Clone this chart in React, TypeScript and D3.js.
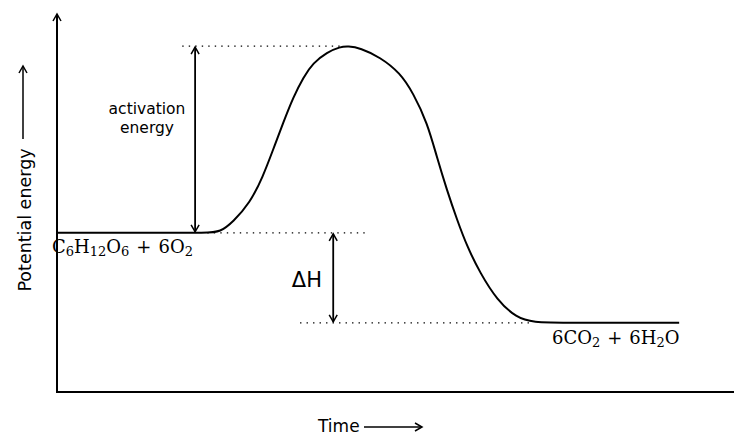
import React from "react";
import * as d3 from "d3";

// Reaction coordinate (time units) and potential energy (arbitrary units)
const time = [0, 1.5, 2.22, 2.41, 2.6, 2.85, 3.04, 3.19, 3.34, 3.49, 3.64, 3.78, 3.99, 4.18, 4.3, 4.48, 4.77, 5.07, 5.26, 5.47, 5.61, 5.76, 5.91, 6.06, 6.25, 6.5, 6.79, 7.03, 7.5, 9.19];
const energy = [4.21, 4.21, 4.21, 4.23, 4.5, 5.0, 5.69, 6.4, 7.12, 7.8, 8.33, 8.7, 8.99, 9.13, 9.15, 9.1, 8.86, 8.44, 7.91, 7.12, 6.22, 5.34, 4.55, 3.84, 3.15, 2.43, 1.96, 1.84, 1.83, 1.83];

const reactantLevel = 4.21;
const productLevel = 1.83;
const peakLevel = 9.15;

// dotted guide lines: [tStart, tEnd, level]
const guideStart = [1.85, 2.22, 3.59];
const guideEnd = [4.18, 4.62, 7.03];
const guideLevel = [peakLevel, reactantLevel, productLevel];

const activationT = 2.04;
const deltaHT = 4.08;

const W = 734;
const H = 436;

export default function App() {
  const x = d3.scaleLinear().domain([0, 10]).range([57, 734]);
  const y = d3.scaleLinear().domain([0, 10]).range([392, 14]);

  const pts: [number, number][] = time.map((t, i) => [t, energy[i]]);
  const line = d3
    .line<[number, number]>()
    .x((d) => x(d[0]))
    .y((d) => y(d[1]))
    .curve(d3.curveBasis);

  const sans = "'DejaVu Sans', sans-serif";
  const serif = "'DejaVu Serif', serif";

  const ax = x(activationT);
  const dx = x(deltaHT);

  return (
    <svg
      width={W}
      height={H}
      style={{ position: "absolute", left: 0, top: 0, background: "#fff" }}
    >
      <defs>
        <marker
          id="head"
          viewBox="-10 -6 12 12"
          markerWidth={12}
          markerHeight={12}
          refX={0}
          refY={0}
          orient="auto-start-reverse"
          markerUnits="userSpaceOnUse"
        >
          <path d="M-7,-4 L0,0 L-7,4" fill="none" stroke="#000" strokeWidth={1.5} />
        </marker>
      </defs>

      {/* axes */}
      <line x1={x(0)} y1={y(0)} x2={x(0)} y2={y(10)} stroke="#000" strokeWidth={2} markerEnd="url(#head)" />
      <line x1={x(0) - 1} y1={y(0)} x2={W} y2={y(0)} stroke="#000" strokeWidth={2} />

      {/* dotted guides */}
      {guideLevel.map((lv, i) => (
        <line
          key={i}
          x1={x(guideStart[i])}
          x2={x(guideEnd[i])}
          y1={y(lv)}
          y2={y(lv)}
          stroke="#000"
          strokeWidth={1.4}
          strokeDasharray="1.4 5.1"
        />
      ))}

      {/* energy curve */}
      <path d={line(pts) || ""} fill="none" stroke="#000" strokeWidth={2} />

      {/* activation energy arrow */}
      <line x1={ax} x2={ax} y1={y(peakLevel) + 1} y2={y(reactantLevel) - 1} stroke="#000" strokeWidth={1.8} markerStart="url(#head)" markerEnd="url(#head)" />
      {/* delta H arrow */}
      <line x1={dx} x2={dx} y1={y(reactantLevel) + 1} y2={y(productLevel) - 1} stroke="#000" strokeWidth={1.8} markerStart="url(#head)" markerEnd="url(#head)" />

      {/* labels */}
      <text x={147} y={114} textAnchor="middle" fontFamily={sans} fontSize={15.5}>activation</text>
      <text x={147} y={133} textAnchor="middle" fontFamily={sans} fontSize={15.5}>energy</text>

      <text x={322} y={287} textAnchor="end" fontFamily={sans} fontSize={21}>ΔH</text>

      <text x={52} y={253} fontFamily={serif} fontSize={18}>
        C<tspan fontSize={13} dy={3}>6</tspan>
        <tspan dy={-3}>H</tspan>
        <tspan fontSize={13} dy={3}>12</tspan>
        <tspan dy={-3}>O</tspan>
        <tspan fontSize={13} dy={3}>6</tspan>
        <tspan dy={-3} dx={7}>+</tspan>
        <tspan dx={7}>6O</tspan>
        <tspan fontSize={13} dy={3}>2</tspan>
      </text>

      <text x={552} y={344} fontFamily={serif} fontSize={18}>
        6CO<tspan fontSize={13} dy={3}>2</tspan>
        <tspan dy={-3} dx={7}>+</tspan>
        <tspan dx={7}>6H</tspan>
        <tspan fontSize={13} dy={3}>2</tspan>
        <tspan dy={-3}>O</tspan>
      </text>

      {/* y axis title */}
      <g transform="translate(31,220) rotate(-90)">
        <text x={0} y={0} textAnchor="middle" fontFamily={sans} fontSize={17.5}>Potential energy</text>
      </g>
      <line x1={23} x2={23} y1={139} y2={66} stroke="#000" strokeWidth={1.5} markerEnd="url(#head)" />

      {/* x axis title */}
      <text x={318} y={432} fontFamily={sans} fontSize={17}>Time</text>
      <line x1={364} x2={422} y1={427} y2={427} stroke="#000" strokeWidth={1.5} markerEnd="url(#head)" />
    </svg>
  );
}
